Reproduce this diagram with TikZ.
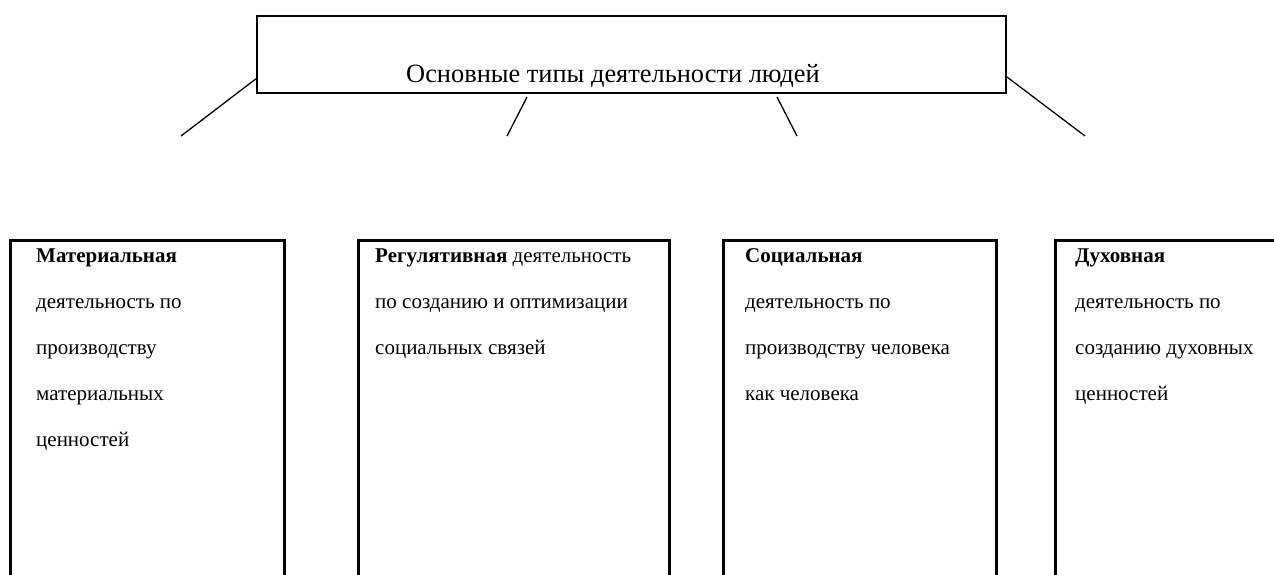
\documentclass[tikz,border=0pt]{standalone}
\usepackage{fontspec}
\setmainfont{Liberation Serif}
\begin{document}
\begin{tikzpicture}[x=1pt,y=-1pt,
  topbox/.style={draw,line width=1.8pt,inner sep=0pt},
  catbox/.style={line width=3pt},
  conn/.style={line width=1.3pt},
  txt/.style={anchor=base west,inner sep=0pt,align=left,font=\fontsize{21}{46}\selectfont},
  ttl/.style={anchor=base west,inner sep=0pt,font=\fontsize{26.4}{30}\selectfont}]
\useasboundingbox (0,0) rectangle (1274,574);
\clip (0,0) rectangle (1274,574);
\node[topbox,minimum width=749pt,minimum height=77pt] (top) at (631.5,54.5) {};
\node[ttl] (title) at (406,82) {Основные типы деятельности людей};
% connector end points
\coordinate (s1) at (257,78);
\coordinate (e1) at (181,136);
\coordinate (s2) at (527,97);
\coordinate (e2) at (507,136);
\coordinate (s3) at (777,97);
\coordinate (e3) at (797,136);
\coordinate (s4) at (1007,77);
\coordinate (e4) at (1085,136);
\draw[conn] (s1) -- (e1);
\draw[conn] (s2) -- (e2);
\draw[conn] (s3) -- (e3);
\draw[conn] (s4) -- (e4);
% category boxes (open at the bottom)
\draw[catbox] (10,590) -- (10,240) -- (284,240) -- (284,590);
\draw[catbox] (358,590) -- (358,240) -- (669,240) -- (669,590);
\draw[catbox] (723,590) -- (723,240) -- (996,240) -- (996,590);
\draw[catbox] (1055,590) -- (1055,240) -- (1300,240);
% text nodes: anchor is the baseline of the last line
\node[txt] (m) at (36,446) {\textbf{Материальная}\\деятельность по\\производству\\материальных\\ценностей};
\node[txt] (r) at (375,354) {\textbf{Регулятивная} деятельность\\по созданию и оптимизации\\социальных связей};
\node[txt] (s) at (745,400) {\textbf{Социальная}\\деятельность по\\производству человека\\как человека};
\node[txt] (d) at (1075,400) {\textbf{Духовная}\\деятельность по\\созданию духовных\\ценностей};
\end{tikzpicture}
\end{document}
